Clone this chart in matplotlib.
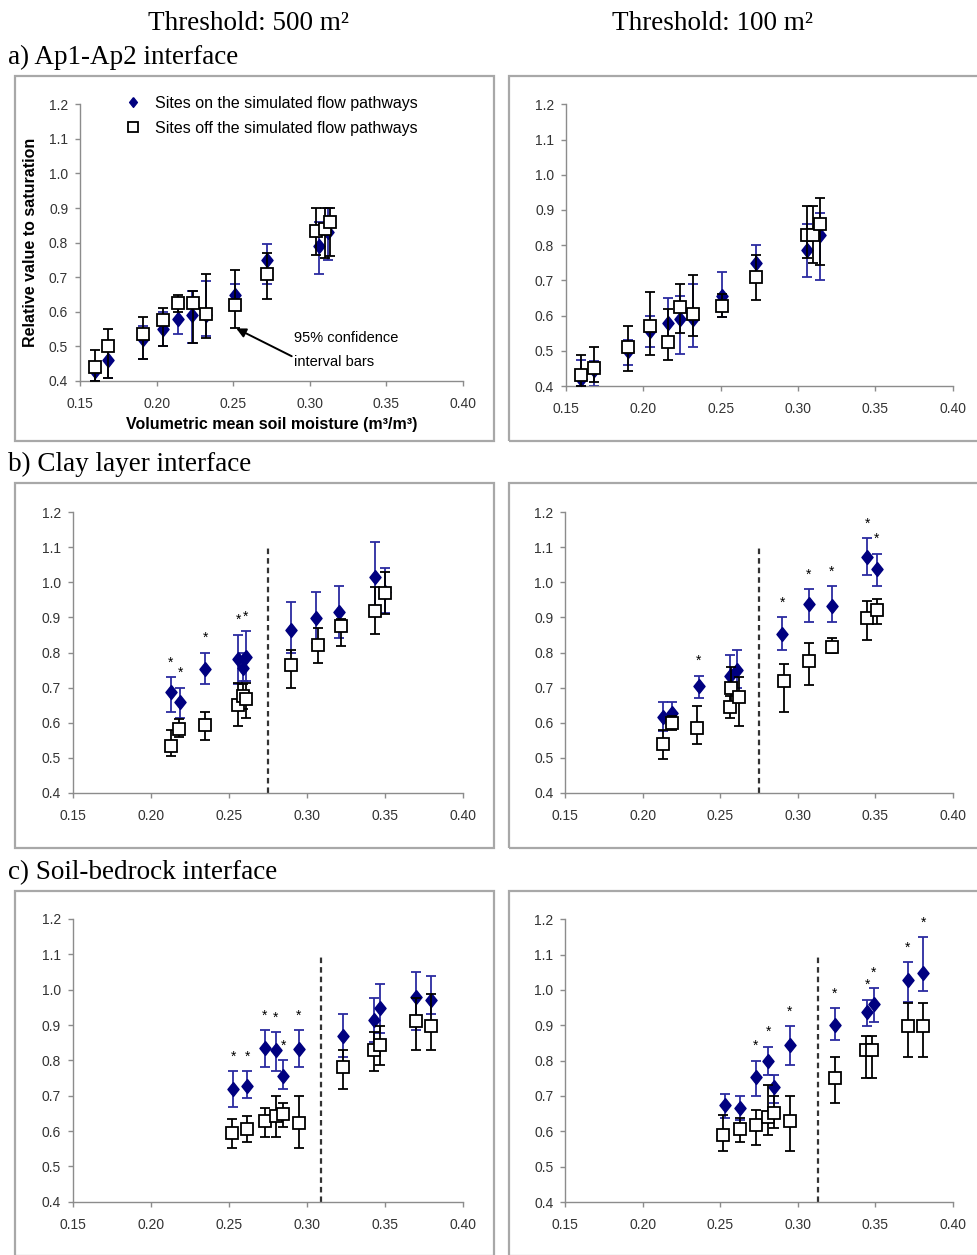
import matplotlib
matplotlib.use("Agg")
import matplotlib.pyplot as plt
from matplotlib.patches import Rectangle

plt.rcParams['font.family'] = ['Liberation Sans', 'DejaVu Sans']

W, H = 977, 1255

# ── data ─────────────────────────────────────────────────────────
# a) Ap1-Ap2 interface, threshold 500 m2
a500_on_x = [0.160, 0.168, 0.191, 0.204, 0.214, 0.223, 0.232, 0.251, 0.272, 0.306, 0.312]
a500_on_y = [0.43, 0.46, 0.52, 0.55, 0.58, 0.59, 0.59, 0.65, 0.75, 0.79, 0.83]
a500_on_lo = [0.40, 0.41, 0.465, 0.50, 0.535, 0.51, 0.53, 0.62, 0.68, 0.71, 0.75]
a500_on_hi = [0.45, 0.50, 0.56, 0.60, 0.63, 0.66, 0.69, 0.68, 0.795, 0.86, 0.90]
a500_off_x = [0.160, 0.168, 0.191, 0.204, 0.214, 0.224, 0.232, 0.251, 0.272, 0.304, 0.310, 0.313]
a500_off_y = [0.44, 0.50, 0.535, 0.575, 0.625, 0.625, 0.595, 0.62, 0.71, 0.835, 0.84, 0.86]
a500_off_lo = [0.40, 0.41, 0.465, 0.50, 0.60, 0.51, 0.525, 0.553, 0.638, 0.765, 0.755, 0.76]
a500_off_hi = [0.49, 0.55, 0.586, 0.612, 0.65, 0.66, 0.71, 0.72, 0.77, 0.90, 0.90, 0.90]

# a) threshold 100 m2
a100_on_x = [0.160, 0.168, 0.190, 0.204, 0.216, 0.224, 0.232, 0.251, 0.273, 0.306, 0.314]
a100_on_y = [0.42, 0.445, 0.50, 0.555, 0.58, 0.59, 0.59, 0.655, 0.75, 0.785, 0.83]
a100_on_lo = [0.40, 0.40, 0.46, 0.51, 0.535, 0.49, 0.51, 0.595, 0.70, 0.71, 0.70]
a100_on_hi = [0.475, 0.47, 0.53, 0.60, 0.65, 0.655, 0.69, 0.725, 0.80, 0.86, 0.89]
a100_off_x = [0.160, 0.168, 0.190, 0.204, 0.216, 0.224, 0.232, 0.251, 0.273, 0.306, 0.310, 0.314]
a100_off_y = [0.43, 0.45, 0.51, 0.57, 0.525, 0.625, 0.605, 0.627, 0.71, 0.83, 0.83, 0.86]
a100_off_lo = [0.40, 0.41, 0.443, 0.488, 0.474, 0.55, 0.543, 0.597, 0.644, 0.763, 0.748, 0.745]
a100_off_hi = [0.487, 0.512, 0.57, 0.667, 0.62, 0.69, 0.715, 0.66, 0.772, 0.91, 0.91, 0.933]

# b) Clay layer interface, threshold 500 m2
b500_on_x = [0.213, 0.219, 0.235, 0.256, 0.259, 0.261, 0.290, 0.306, 0.321, 0.344, 0.350]
b500_on_y = [0.688, 0.658, 0.754, 0.782, 0.756, 0.786, 0.865, 0.898, 0.914, 1.015, 0.971]
b500_on_lo = [0.63, 0.614, 0.71, 0.71, 0.72, 0.718, 0.80, 0.827, 0.841, 0.92, 0.912]
b500_on_hi = [0.73, 0.70, 0.80, 0.851, 0.80, 0.86, 0.944, 0.971, 0.988, 1.114, 1.04]
b500_star = [1, 1, 1, 1, 0, 1, 0, 0, 0, 0, 0]
b500_off_x = [0.213, 0.218, 0.235, 0.256, 0.259, 0.261, 0.290, 0.307, 0.322, 0.344, 0.350]
b500_off_y = [0.535, 0.583, 0.595, 0.651, 0.675, 0.669, 0.765, 0.82, 0.875, 0.917, 0.97]
b500_off_lo = [0.504, 0.56, 0.55, 0.59, 0.64, 0.614, 0.70, 0.77, 0.818, 0.853, 0.91]
b500_off_hi = [0.578, 0.61, 0.63, 0.713, 0.71, 0.713, 0.806, 0.87, 0.895, 0.986, 1.03]
b500_split = 0.275

# b) threshold 100 m2
b100_on_x = [0.213, 0.219, 0.236, 0.256, 0.261, 0.290, 0.307, 0.322, 0.345, 0.351]
b100_on_y = [0.615, 0.628, 0.704, 0.732, 0.75, 0.854, 0.938, 0.933, 1.072, 1.038]
b100_on_lo = [0.576, 0.595, 0.67, 0.685, 0.70, 0.808, 0.887, 0.887, 1.022, 0.988]
b100_on_hi = [0.658, 0.658, 0.734, 0.794, 0.808, 0.90, 0.98, 0.988, 1.126, 1.081]
b100_star = [0, 0, 1, 0, 0, 1, 1, 1, 1, 1]
b100_off_x = [0.213, 0.219, 0.235, 0.256, 0.257, 0.262, 0.291, 0.307, 0.322, 0.345, 0.351]
b100_off_y = [0.54, 0.60, 0.585, 0.644, 0.70, 0.673, 0.718, 0.775, 0.815, 0.898, 0.92]
b100_off_lo = [0.498, 0.58, 0.54, 0.614, 0.64, 0.59, 0.63, 0.708, 0.80, 0.835, 0.882]
b100_off_hi = [0.58, 0.62, 0.647, 0.675, 0.76, 0.73, 0.768, 0.827, 0.84, 0.946, 0.953]
b100_split = 0.275

# c) Soil-bedrock interface, threshold 500 m2
c500_on_x = [0.253, 0.262, 0.273, 0.280, 0.285, 0.295, 0.323, 0.343, 0.347, 0.370, 0.380]
c500_on_y = [0.719, 0.728, 0.835, 0.83, 0.756, 0.833, 0.869, 0.915, 0.948, 0.978, 0.97]
c500_on_lo = [0.669, 0.693, 0.78, 0.771, 0.719, 0.78, 0.81, 0.853, 0.877, 0.886, 0.93]
c500_on_hi = [0.77, 0.77, 0.886, 0.879, 0.80, 0.886, 0.93, 0.976, 1.017, 1.049, 1.04]
c500_star = [1, 1, 1, 1, 1, 1, 0, 0, 0, 0, 0]
c500_off_x = [0.252, 0.262, 0.273, 0.280, 0.285, 0.295, 0.323, 0.343, 0.347, 0.370, 0.380]
c500_off_y = [0.594, 0.605, 0.629, 0.643, 0.647, 0.624, 0.78, 0.828, 0.844, 0.91, 0.898]
c500_off_lo = [0.551, 0.57, 0.582, 0.582, 0.611, 0.551, 0.719, 0.771, 0.787, 0.83, 0.83]
c500_off_hi = [0.633, 0.643, 0.664, 0.70, 0.679, 0.70, 0.83, 0.879, 0.896, 0.976, 0.988]
c500_split = 0.309

# c) threshold 100 m2
c100_on_x = [0.253, 0.263, 0.273, 0.281, 0.285, 0.295, 0.324, 0.345, 0.349, 0.371, 0.381]
c100_on_y = [0.675, 0.666, 0.753, 0.798, 0.725, 0.843, 0.90, 0.939, 0.96, 1.029, 1.047]
c100_on_lo = [0.637, 0.633, 0.70, 0.76, 0.68, 0.789, 0.859, 0.897, 0.908, 0.967, 0.997]
c100_on_hi = [0.706, 0.70, 0.80, 0.84, 0.76, 0.897, 0.948, 0.972, 1.007, 1.079, 1.149]
c100_star = [0, 0, 1, 1, 0, 1, 1, 1, 1, 1, 1]
c100_off_x = [0.252, 0.263, 0.273, 0.281, 0.285, 0.295, 0.324, 0.344, 0.348, 0.371, 0.381]
c100_off_y = [0.59, 0.607, 0.617, 0.64, 0.653, 0.628, 0.75, 0.83, 0.83, 0.898, 0.898]
c100_off_lo = [0.543, 0.571, 0.562, 0.59, 0.61, 0.543, 0.68, 0.752, 0.752, 0.81, 0.81]
c100_off_hi = [0.647, 0.637, 0.659, 0.73, 0.70, 0.70, 0.81, 0.87, 0.87, 0.964, 0.964]
c100_split = 0.313

x_ticks = [0.15, 0.20, 0.25, 0.30, 0.35, 0.40]
y_ticks = [0.4, 0.5, 0.6, 0.7, 0.8, 0.9, 1.0, 1.1, 1.2]

NAVY = '#000080'
BLUEBAR = '#2b2ba0'
GREY = '#8c8c8c'
DIAMOND = [(0, 1), (0.8, 0), (0, -1), (-0.8, 0), (0, 1)]


def place(x0, x1, ytop, ybot):
    return [x0 / W, 1 - ybot / H, (x1 - x0) / W, (ybot - ytop) / H]


def draw_panel(ax, on, off, star=None, split=None):
    ox, oy, olo, ohi = on
    fx, fy, flo, fhi = off
    ax.errorbar(ox, oy, yerr=[[y - l for y, l in zip(oy, olo)],
                              [h - y for y, h in zip(oy, ohi)]],
                fmt='none', ecolor=BLUEBAR, elinewidth=1.3, capsize=3.5,
                capthick=1.3, clip_on=False, zorder=2)
    ax.plot(ox, oy, linestyle='none', marker=DIAMOND, markersize=10,
            color=NAVY, clip_on=False, zorder=3,
            label='Sites on the simulated flow pathways')
    ax.errorbar(fx, fy, yerr=[[y - l for y, l in zip(fy, flo)],
                              [h - y for y, h in zip(fy, fhi)]],
                fmt='none', ecolor='black', elinewidth=1.3, capsize=3.5,
                capthick=1.3, clip_on=False, zorder=4)
    ax.plot(fx, fy, linestyle='none', marker='s', markersize=8.8,
            markerfacecolor='white', markeredgecolor='black',
            markeredgewidth=1.3, clip_on=False, zorder=5,
            label='Sites off the simulated flow pathways')
    if star:
        for x, h, s in zip(ox, ohi, star):
            if s:
                ax.text(x, h + 0.03, '*', ha='center', va='baseline',
                        fontsize=10, color='black', zorder=6)
    if split:
        ax.plot([split, split], [0.4, 1.1], color='#333333', lw=1.6,
                linestyle=(0, (2.5, 1.8)), zorder=1)

    ax.set_xlim(0.15, 0.40)
    ax.set_ylim(0.4, 1.2)
    ax.set_xticks(x_ticks)
    ax.set_yticks(y_ticks)
    ax.set_xticklabels([f'{t:.2f}' for t in x_ticks])
    ax.set_yticklabels([f'{t:.1f}' for t in y_ticks])
    for s in ['top', 'right']:
        ax.spines[s].set_visible(False)
    for s in ['left', 'bottom']:
        ax.spines[s].set_color(GREY)
        ax.spines[s].set_linewidth(1.0)
    ax.tick_params(axis='both', direction='out', length=3.5, width=1.0,
                   color=GREY, labelsize=10, labelcolor='#333333')
    ax.tick_params(axis='x', pad=8)
    ax.tick_params(axis='y', pad=5)
    ax.patch.set_alpha(0)


fig = plt.figure(figsize=(W / 100, H / 100), dpi=100)

# grey frames around each chart
for ytop in [76, 483, 891]:
    for x0, x1 in [(15, 494), (509, 995)]:
        fig.patches.append(Rectangle((x0 / W, 1 - (ytop + 365) / H),
                                     (x1 - x0) / W, 365 / H,
                                     transform=fig.transFigure, fill=False,
                                     edgecolor='#a8a8a8', lw=1.6))

serif = ['Liberation Serif', 'DejaVu Serif']
fig.text(249 / W, 1 - 30 / H, 'Threshold: 500 m²', ha='center',
         va='baseline', fontsize=19.5, family=serif)
fig.text(713 / W, 1 - 30 / H, 'Threshold: 100 m²', ha='center',
         va='baseline', fontsize=19.5, family=serif)
fig.text(8 / W, 1 - 64 / H, 'a) Ap1-Ap2 interface', ha='left',
         va='baseline', fontsize=19.5, family=serif)
fig.text(8 / W, 1 - 471 / H, 'b) Clay layer interface', ha='left',
         va='baseline', fontsize=19.5, family=serif)
fig.text(8 / W, 1 - 879 / H, 'c) Soil-bedrock interface', ha='left',
         va='baseline', fontsize=19.5, family=serif)

ax_a500 = fig.add_axes(place(80, 463, 104.3, 381))
ax_a100 = fig.add_axes(place(566, 952.7, 104.3, 386))
ax_b500 = fig.add_axes(place(72.7, 462.7, 512, 793))
ax_b100 = fig.add_axes(place(565.3, 952.7, 512, 793))
ax_c500 = fig.add_axes(place(72.7, 462.7, 919, 1201.7))
ax_c100 = fig.add_axes(place(565.3, 952.7, 919.3, 1202))

draw_panel(ax_a500, (a500_on_x, a500_on_y, a500_on_lo, a500_on_hi),
           (a500_off_x, a500_off_y, a500_off_lo, a500_off_hi))
draw_panel(ax_a100, (a100_on_x, a100_on_y, a100_on_lo, a100_on_hi),
           (a100_off_x, a100_off_y, a100_off_lo, a100_off_hi))
draw_panel(ax_b500, (b500_on_x, b500_on_y, b500_on_lo, b500_on_hi),
           (b500_off_x, b500_off_y, b500_off_lo, b500_off_hi),
           b500_star, b500_split)
draw_panel(ax_b100, (b100_on_x, b100_on_y, b100_on_lo, b100_on_hi),
           (b100_off_x, b100_off_y, b100_off_lo, b100_off_hi),
           b100_star, b100_split)
draw_panel(ax_c500, (c500_on_x, c500_on_y, c500_on_lo, c500_on_hi),
           (c500_off_x, c500_off_y, c500_off_lo, c500_off_hi),
           c500_star, c500_split)
draw_panel(ax_c100, (c100_on_x, c100_on_y, c100_on_lo, c100_on_hi),
           (c100_off_x, c100_off_y, c100_off_lo, c100_off_hi),
           c100_star, c100_split)

# labels, legend and annotation only on the first panel
ax_a500.set_ylabel('Relative value to saturation', fontsize=11.5,
                   fontweight='bold', labelpad=8)
ax_a500.set_xlabel('Volumetric mean soil moisture (m³/m³)', fontsize=11.5,
                   fontweight='bold', labelpad=4)
leg = ax_a500.legend(loc='upper left', bbox_to_anchor=(0.093, 1.06),
                     frameon=False, fontsize=11.5, handlelength=1.2,
                     handletextpad=0.75, labelspacing=0.62, borderpad=0)
for h in leg.legend_handles:
    h.set_markersize(7)
ax_a500.annotate('95% confidence\n\ninterval bars', xy=(0.252, 0.552),
                 xytext=(0.290, 0.49), fontsize=10.5, va='center', ha='left',
                 linespacing=0.85,
                 arrowprops=dict(arrowstyle='-|>', color='black', lw=1.4,
                                 shrinkA=0, shrinkB=0, mutation_scale=14,
                                 relpos=(0, 0.3)))

fig.savefig('out.png', dpi=100)
